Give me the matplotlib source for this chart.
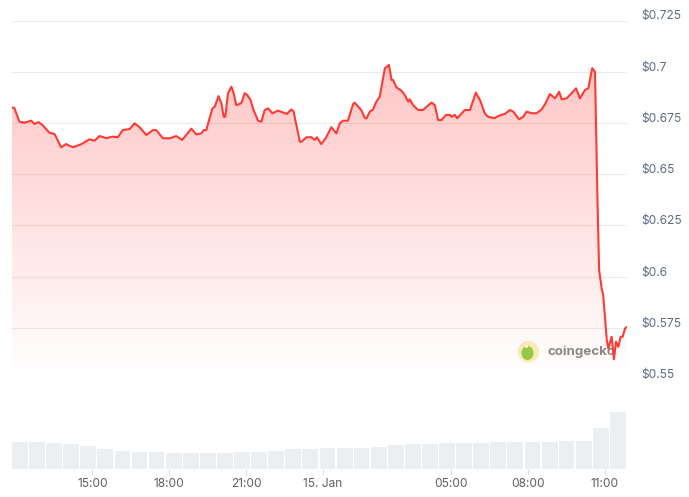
import numpy as np
import matplotlib
matplotlib.use("Agg")
import matplotlib.pyplot as plt
from matplotlib.transforms import ScaledTranslation
from matplotlib.patches import Circle, Ellipse

# ---- data (hours since 14 Jan 00:00) ----
price_hours = [
    11.86, 11.95, 12.15, 12.34, 12.61, 12.73, 12.89, 13.05, 13.32, 13.52,
    13.78, 13.97, 14.23, 14.56, 14.88, 15.08, 15.27, 15.54, 15.79, 15.99,
    16.18, 16.45, 16.64, 16.84, 17.10, 17.36, 17.49, 17.75, 18.01, 18.27,
    18.50, 18.86, 19.05, 19.25, 19.34, 19.44, 19.68, 19.77, 19.92, 20.03,
    20.12, 20.18, 20.29, 20.42, 20.51, 20.61, 20.81, 20.94, 21.04, 21.17,
    21.26, 21.46, 21.59, 21.72, 21.85, 22.02, 22.24, 22.59, 22.76, 22.85,
    23.09, 23.15, 23.35, 23.54, 23.67, 23.76, 23.93, 24.10, 24.32, 24.52,
    24.65, 24.78, 24.97, 25.17, 25.23, 25.43, 25.50, 25.63, 25.70, 25.82,
    25.95, 26.08, 26.21, 26.41, 26.57, 26.67, 26.73, 26.86, 27.06, 27.19,
    27.32, 27.38, 27.51, 27.71, 27.90, 28.04, 28.23, 28.36, 28.49, 28.62,
    28.79, 28.95, 29.01, 29.14, 29.23, 29.53, 29.73, 29.96, 30.12, 30.31,
    30.44, 30.70, 30.83, 31.09, 31.29, 31.42, 31.64, 31.81, 31.94, 32.14,
    32.33, 32.53, 32.66, 32.85, 33.05, 33.21, 33.31, 33.50, 33.70, 33.87,
    34.02, 34.22, 34.35, 34.50, 34.61, 34.71, 34.77, 34.87, 34.93, 35.07,
    35.13, 35.26, 35.35, 35.43, 35.52, 35.61, 35.69, 35.78, 35.87,
]
prices = [
    0.6826, 0.6823, 0.6756, 0.6751, 0.6761, 0.6745, 0.6754, 0.6740, 0.6702, 0.6696,
    0.6631, 0.6647, 0.6631, 0.6646, 0.6670, 0.6663, 0.6686, 0.6676, 0.6683, 0.6680,
    0.6715, 0.6720, 0.6748, 0.6729, 0.6691, 0.6715, 0.6715, 0.6675, 0.6675, 0.6686,
    0.6667, 0.6722, 0.6694, 0.6699, 0.6715, 0.6715, 0.6821, 0.6829, 0.6881, 0.6846,
    0.6780, 0.6780, 0.6895, 0.6927, 0.6895, 0.6837, 0.6846, 0.6895, 0.6886, 0.6862,
    0.6821, 0.6761, 0.6756, 0.6813, 0.6821, 0.6797, 0.6810, 0.6794, 0.6816, 0.6805,
    0.6658, 0.6658, 0.6680, 0.6680, 0.6667, 0.6680, 0.6647, 0.6675, 0.6729, 0.6699,
    0.6748, 0.6761, 0.6761, 0.6842, 0.6849, 0.6821, 0.6810, 0.6773, 0.6773, 0.6805,
    0.6816, 0.6854, 0.6878, 0.7017, 0.7033, 0.6960, 0.6960, 0.6924, 0.6907, 0.6886,
    0.6854, 0.6865, 0.6837, 0.6813, 0.6813, 0.6829, 0.6849, 0.6837, 0.6764, 0.6764,
    0.6789, 0.6789, 0.6780, 0.6789, 0.6773, 0.6813, 0.6813, 0.6898, 0.6862, 0.6797,
    0.6780, 0.6773, 0.6784, 0.6794, 0.6813, 0.6805, 0.6768, 0.6780, 0.6805, 0.6797,
    0.6797, 0.6816, 0.6842, 0.6891, 0.6870, 0.6902, 0.6865, 0.6870, 0.6895, 0.6919,
    0.6870, 0.6911, 0.6919, 0.7017, 0.7000, 0.6350, 0.6032, 0.5942, 0.5910, 0.5690,
    0.5649, 0.5706, 0.5596, 0.5682, 0.5657, 0.5706, 0.5706, 0.5747, 0.5755,
]
volume_hours = [
    11.86, 12.53, 13.19, 13.86, 14.53, 15.19, 15.86, 16.53, 17.19, 17.86,
    18.53, 19.19, 19.86, 20.53, 21.19, 21.86, 22.53, 23.19, 23.86, 24.53,
    25.19, 25.86, 26.53, 27.19, 27.86, 28.53, 29.19, 29.86, 30.53, 31.19,
    31.86, 32.53, 33.19, 33.86, 34.53, 35.19,
]
volumes_m = [
    27.6, 27.0, 26.6, 25.3, 23.6, 20.3, 18.6, 17.6, 17.0, 16.3,
    16.3, 16.3, 16.3, 17.6, 17.6, 18.6, 20.0, 20.6, 21.3, 21.3,
    21.3, 22.6, 24.6, 25.0, 25.0, 26.0, 26.0, 26.6, 27.0, 27.0,
    27.0, 27.3, 28.0, 28.6, 41.0, 57.0,
]
y_ticks = [0.55, 0.575, 0.6, 0.625, 0.65, 0.675, 0.7, 0.725]
y_tick_labels = ["$0.55", "$0.575", "$0.6", "$0.625", "$0.65", "$0.675", "$0.7", "$0.725"]
x_ticks = [15, 18, 21, 24, 29, 32, 35]
x_tick_labels = ["15:00", "18:00", "21:00", "15. Jan", "05:00", "08:00", "11:00"]

FONT = ["Inter", "DejaVu Sans"]
plt.rcParams["font.family"] = FONT

W, H = 689, 497
fig = plt.figure(figsize=(W / 100, H / 100), dpi=100)
fig.patch.set_facecolor("white")

x0, x1 = min(price_hours), max(price_hours)
y_lo, y_hi = 0.55, 0.725

# price axes
axl, axr = 12, 627.3
ay_bot, ay_top = 379, 20.5
ax = fig.add_axes([axl / W, (H - ay_bot) / H, (axr - axl) / W, (ay_bot - ay_top) / H])
ax.set_xlim(x0, x1)
ax.set_ylim(y_lo, y_hi)
for s in ax.spines.values():
    s.set_visible(False)
ax.set_xticks([])
ax.set_yticks(y_ticks)
ax.set_yticklabels(y_tick_labels)
ax.yaxis.tick_right()
ax.tick_params(axis="y", length=0, pad=10, labelsize=8.6, labelcolor="#5d6b85")
ax.grid(axis="y", color="#ebebeb", linewidth=0.8)
ax.set_axisbelow(True)
for lab in ax.get_yticklabels():
    lab.set_transform(lab.get_transform() + ScaledTranslation(0, 5.5 / 100, fig.dpi_scale_trans))

# gradient fill
poly = ax.fill_between(price_hours, prices, y_lo, color="none", lw=0)
ny = 256
alpha = np.linspace(0.0, 0.27, ny)[:, None]
grad = np.zeros((ny, 2, 4))
grad[..., 0] = 1.0
grad[..., 1] = 0.05
grad[..., 2] = 0.05
grad[..., 3] = alpha
im = ax.imshow(grad, aspect="auto", extent=[x0, x1, y_lo, y_hi], origin="lower", zorder=1)
path = poly.get_paths()[0]
im.set_clip_path(path, transform=ax.transData)

ax.plot(price_hours, prices, color="#ff3a33", linewidth=1.5, zorder=4, solid_joinstyle="round")

# watermark
wx = fig.add_axes([0, 0, 1, 1], facecolor="none")
wx.set_xlim(0, W)
wx.set_ylim(H, 0)
wx.axis("off")
wx.set_zorder(ax.get_zorder() - 0.5)
ax.patch.set_visible(False)
wx.add_patch(Circle((528.3, 351.7), 10.7, facecolor="#f8eeb0", edgecolor="none", alpha=0.9))
wx.add_patch(Ellipse((527.5, 353), 12, 14, facecolor="#8dc63f", edgecolor="none", alpha=0.9))
wx.add_patch(Circle((526.5, 346.5), 1.4, facecolor="white", edgecolor="none"))
wx.text(547, 352, "coingecko", fontsize=9.6, fontweight="bold", color="#8a8a8a",
        va="center", ha="left", family=FONT)

# volume axes
vb, vt = 469.3, 400
vax = fig.add_axes([axl / W, (H - vb) / H, (axr - axl) / W, (vb - vt) / H])
vax.set_xlim(x0, x1)
vax.set_ylim(0, vb - vt)
width = (x1 - x0) / len(volume_hours)
vax.bar(volume_hours, volumes_m, width=width - 0.05, align="edge", color="#eceff2", edgecolor="none")
for s in vax.spines.values():
    s.set_visible(False)
vax.set_yticks([])
vax.set_xticks(x_ticks)
vax.set_xticklabels(x_tick_labels)
vax.tick_params(axis="x", length=4, width=0.8, color="#dde1e6", pad=2.5, labelsize=8.6, labelcolor="#5f5f5f")
vax.patch.set_visible(False)

fig.savefig("out.png", dpi=100, facecolor="white")
